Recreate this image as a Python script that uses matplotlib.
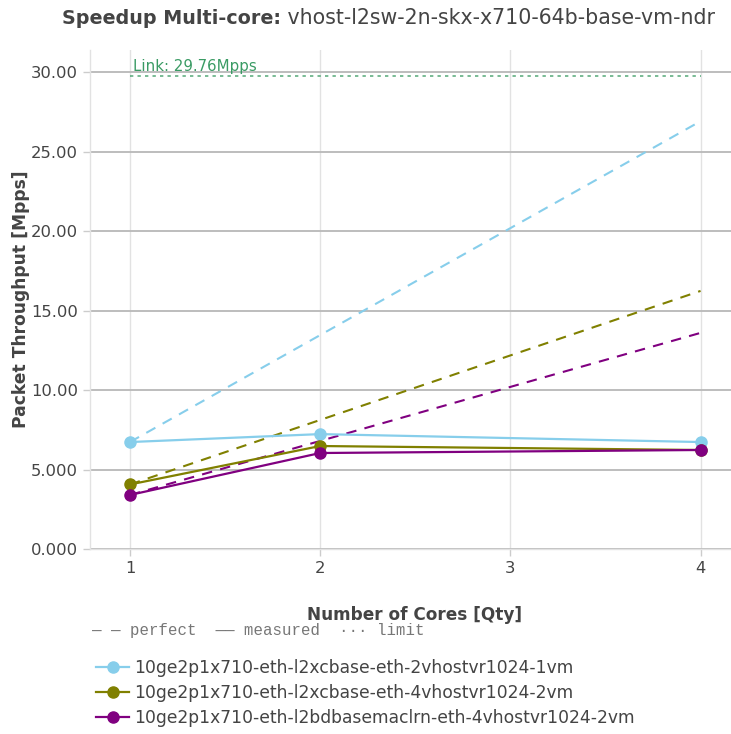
import matplotlib.pyplot as plt
from matplotlib.lines import Line2D

# data
cores = [1, 2, 4]
series_names = [
    "10ge2p1x710-eth-l2xcbase-eth-2vhostvr1024-1vm",
    "10ge2p1x710-eth-l2xcbase-eth-4vhostvr1024-2vm",
    "10ge2p1x710-eth-l2bdbasemaclrn-eth-4vhostvr1024-2vm",
]
measured_l2xc_1vm = [6.73, 7.23, 6.73]
measured_l2xc_2vm = [4.06, 6.48, 6.23]
measured_l2bd_2vm = [3.40, 6.04, 6.23]
series_colors = ["#87ceeb", "#808000", "#800080"]
link_limit = 29.76
y_ticks = [0, 5, 10, 15, 20, 25, 30]
y_tick_labels = ["0.000", "5.000", "10.00", "15.00", "20.00", "25.00", "30.00"]
x_ticks = [1, 2, 3, 4]

text_color = "#444444"
link_color = "#3a9b64"

fig = plt.figure(figsize=(7.31, 7.34), dpi=100)
ax = fig.add_axes([90 / 731, 1 - 549 / 734, 641 / 731, 499 / 734])

measured = [measured_l2xc_1vm, measured_l2xc_2vm, measured_l2bd_2vm]
for vals, color in zip(measured, series_colors):
    perfect = [vals[0] * c for c in cores]
    ax.plot(cores, perfect, color=color, lw=1.5, ls=(0, (5, 4)), zorder=3)
for vals, color in zip(measured, series_colors):
    ax.plot(cores, vals, color=color, lw=1.6, marker="o", ms=8,
            zorder=4, clip_on=False)

# link limit
ax.plot([cores[0], cores[-1]], [link_limit, link_limit], color=link_color,
        lw=1.2, ls=(0, (2, 2.5)), alpha=0.8, zorder=2)
ax.text(cores[0] + 0.015, link_limit + 0.15, "Link: 29.76Mpps", color=link_color,
        fontsize=10.8, ha="left", va="bottom")

ax.set_xlim(0.79, 4.16)
ax.set_ylim(0, 31.4)
ax.set_xticks(x_ticks)
ax.set_xticklabels([str(t) for t in x_ticks])
ax.set_yticks(y_ticks)
ax.set_yticklabels(y_tick_labels)
ax.tick_params(colors="#cccccc", labelcolor=text_color, labelsize=11.8,
               length=5, width=1)
ax.grid(axis="y", color="#b8b8b8", lw=1.3)
ax.grid(axis="x", color="#e2e2e2", lw=1)
ax.set_axisbelow(True)
for side in ["top", "right"]:
    ax.spines[side].set_visible(False)
for side in ["left", "bottom"]:
    ax.spines[side].set_color("#e2e2e2")
    ax.spines[side].set_linewidth(1)

ax.set_ylabel("Packet Throughput [Mpps]", fontsize=12.3, fontweight="bold",
              color=text_color)
ax.yaxis.set_label_coords(-0.093, 0.5)
ax.set_xlabel("Number of Cores [Qty]", fontsize=12.2, fontweight="bold",
              color=text_color)
ax.xaxis.set_label_coords(0.506, -0.115)

# title: bold prefix, plain remainder placed right after it
title_bold = fig.text(62 / 731, 1 - 18 / 734, "Speedup Multi-core:",
                      fontsize=13.8, fontweight="bold", color=text_color,
                      ha="left", va="center")
ax.annotate(" vhost-l2sw-2n-skx-x710-64b-base-vm-ndr", xy=(1, 0),
            xycoords=title_bold, fontsize=14.8, color=text_color,
            ha="left", va="bottom", annotation_clip=False)

# line style note
fig.text(92 / 731, 1 - 630 / 734, "— — perfect  —— measured  ··· limit",
         family="Liberation Mono", fontsize=11.3, color="#777777",
         ha="left", va="center")

# legend
handles = [Line2D([], [], color=c, lw=1.6, marker="o", ms=8)
           for c in series_colors]
leg = fig.legend(handles, series_names, loc="upper left",
                 bbox_to_anchor=(96 / 731, 1 - 659 / 734), frameon=False,
                 fontsize=12.3, handlelength=1.95, handletextpad=0.3,
                 labelspacing=0.4, borderaxespad=0, borderpad=0)
for t in leg.get_texts():
    t.set_color(text_color)

fig.savefig("out.png", dpi=100)
